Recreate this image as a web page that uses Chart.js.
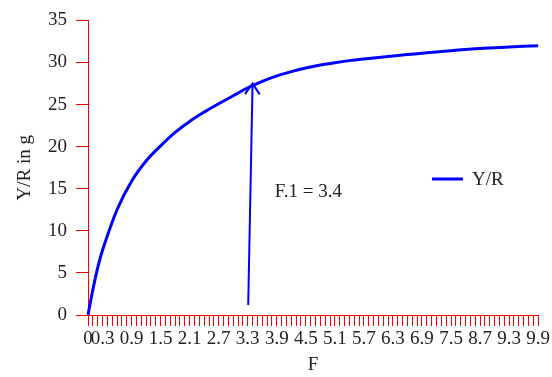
<!DOCTYPE html>
<html>
<head>
<meta charset="utf-8">
<script src="https://cdn.jsdelivr.net/npm/chart.js@4/dist/chart.umd.min.js"></script>
<style>
  html, body { margin: 0; padding: 0; background: #fff; }
  #wrap { width: 552px; height: 377px; }
</style>
</head>
<body>
<div id="wrap"><canvas id="yr-chart" width="552" height="377"></canvas></div>
<script>
// category labels of the F axis (as they sit on the axis)
const fLabels = [
  '0', '0.1', '0.2', '0.3', '0.4', '0.5', '0.6', '0.7', '0.8', '0.9',
  '1.0', '1.1', '1.2', '1.3', '1.4', '1.5', '1.6', '1.7', '1.8', '1.9',
  '2.0', '2.1', '2.2', '2.3', '2.4', '2.5', '2.6', '2.7', '2.8', '2.9',
  '3.0', '3.1', '3.2', '3.3', '3.4', '3.5', '3.6', '3.7', '3.8', '3.9',
  '4.0', '4.1', '4.2', '4.3', '4.4', '4.5', '4.6', '4.7', '4.8', '4.9',
  '5.0', '5.1', '5.2', '5.3', '5.4', '5.5', '5.6', '5.7', '5.8', '5.9',
  '6.0', '6.1', '6.2', '6.3', '6.4', '6.5', '6.6', '6.7', '6.8', '6.9',
  '7.0', '7.1', '7.2', '7.3', '7.4', '7.5', '7.7', '7.9', '8.1', '8.3',
  '8.5', '8.7', '8.8', '8.9', '9.0', '9.1', '9.2', '9.3', '9.4', '9.5',
  '9.6', '9.7', '9.8', '9.9'
];
// labels printed under the axis
const shownLabels = ['0', '0.3', '0.9', '1.5', '2.1', '2.7', '3.3', '3.9', '4.5',
  '5.1', '5.7', '6.3', '6.9', '7.5', '8.7', '9.3', '9.9'];

// Y/R curve
const curveF = ['0', '0.1', '0.2', '0.3', '0.6', '0.9', '1.2', '1.5', '1.8',
  '2.1', '2.4', '2.7', '3.0', '3.3', '3.6', '3.9', '4.2', '4.5', '4.8',
  '5.1', '5.4', '5.7', '6.0', '6.3', '6.6', '6.9', '7.2', '7.5', '8.7', '9.3', '9.9'];
const curveYR = [0, 3.0, 5.6, 7.7, 12.5, 15.9, 18.3, 20.1, 21.7,
  23.0, 24.1, 25.1, 26.05, 27.0, 27.75, 28.4, 28.92, 29.35, 29.7,
  29.98, 30.22, 30.42, 30.6, 30.78, 30.94, 31.1, 31.25, 31.4, 31.65, 31.83, 32.0];

const yTicks = [0, 5, 10, 15, 20, 25, 30, 35];

// F.1 arrow: from near the axis up to the curve
const arrowFrom = { i: 33.1, y: 1.2 };
const arrowTo = { i: 34, y: 27.5 };
const noteText = 'F.1 = 3.4';
const notePos = { i: 38.6, y: 14.6 };

const RED = '#ff0000';
const BLUE = '#0000ff';
const FONT = "'Liberation Serif', 'Times New Roman', serif";

const overlay = {
  id: 'overlay',
  afterDatasetsDraw(chart) {
    const { ctx, scales: { x, y } } = chart;
    ctx.save();
    // arrow
    const x0 = x.getPixelForValue(arrowFrom.i), y0 = y.getPixelForValue(arrowFrom.y);
    const x1 = x.getPixelForValue(arrowTo.i), y1 = y.getPixelForValue(arrowTo.y);
    ctx.strokeStyle = BLUE;
    ctx.lineWidth = 2;
    ctx.beginPath();
    ctx.moveTo(x0, y0);
    ctx.lineTo(x1, y1);
    ctx.stroke();
    const ang = Math.atan2(y1 - y0, x1 - x0);
    const len = 13;
    ctx.beginPath();
    ctx.moveTo(x1 - len * Math.cos(ang - 0.6), y1 - len * Math.sin(ang - 0.6));
    ctx.lineTo(x1, y1);
    ctx.lineTo(x1 - len * Math.cos(ang + 0.6), y1 - len * Math.sin(ang + 0.6));
    ctx.stroke();

    // note
    ctx.fillStyle = '#222';
    ctx.font = '19px ' + FONT;
    ctx.textBaseline = 'middle';
    ctx.textAlign = 'left';
    ctx.fillText(noteText, x.getPixelForValue(notePos.i), y.getPixelForValue(notePos.y));

    // legend
    const lx = 432, ly = 179;
    ctx.strokeStyle = BLUE;
    ctx.lineWidth = 3;
    ctx.beginPath();
    ctx.moveTo(lx, ly);
    ctx.lineTo(lx + 31, ly);
    ctx.stroke();
    ctx.fillText(chart.data.datasets[0].label, lx + 40, ly + 1);
    ctx.restore();
  }
};

new Chart(document.getElementById('yr-chart'), {
  type: 'line',
  data: {
    labels: fLabels,
    datasets: [{
      label: 'Y/R',
      data: curveF.map((f, i) => ({ x: f, y: curveYR[i] })),
      borderColor: BLUE,
      borderWidth: 3,
      pointRadius: 0,
      fill: false,
      tension: 0.35
    }]
  },
  options: {
    responsive: false,
    animation: false,
    layout: { padding: { top: 20, right: 12, left: 0, bottom: 0 } },
    plugins: { legend: { display: false }, tooltip: { enabled: false } },
    scales: {
      x: {
        type: 'category',
        offset: false,
        afterFit(scale) { scale.height = 62; },
        grid: { drawOnChartArea: false, drawTicks: true, tickLength: 11, color: RED, lineWidth: 1 },
        border: { display: true, color: RED, width: 1 },
        ticks: {
          autoSkip: false,
          maxRotation: 0,
          minRotation: 0,
          padding: 2,
          color: '#222',
          font: { family: FONT, size: 19 },
          callback(val, idx) {
            const lab = fLabels[idx];
            if (idx === 0) return lab;
            return (idx - 3) % 6 === 0 && shownLabels.includes(lab) ? lab : '';
          }
        },
        title: { display: true, text: 'F', color: '#222', font: { family: FONT, size: 19 }, padding: { top: 0, bottom: 1 } }
      },
      y: {
        min: 0,
        max: 35,
        afterFit(scale) { scale.width = 88; },
        afterBuildTicks(scale) { scale.ticks = yTicks.map(v => ({ value: v })); },
        grid: { drawOnChartArea: false, drawTicks: true, tickLength: 12, color: RED, lineWidth: 1 },
        border: { display: true, color: RED, width: 1 },
        ticks: { padding: 9, color: '#222', font: { family: FONT, size: 19 } },
        title: { display: true, text: 'Y/R in g', color: '#222', font: { family: FONT, size: 19 }, padding: { top: 14, bottom: 0 } }
      }
    }
  },
  plugins: [overlay]
});
</script>
</body>
</html>
